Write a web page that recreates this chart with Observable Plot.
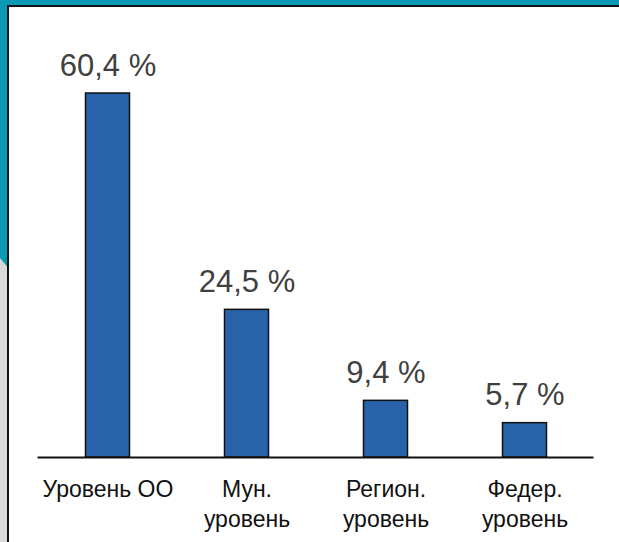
<!DOCTYPE html>
<html>
<head>
<meta charset="utf-8">
<script src="https://cdn.jsdelivr.net/npm/d3@7"></script>
<script src="https://cdn.jsdelivr.net/npm/@observablehq/plot@0.6"></script>
<style>
  html, body { margin: 0; padding: 0; }
  #frame { position: relative; width: 619px; height: 542px; background: #0a99b4; overflow: hidden; font-family: "Liberation Sans", Arial, sans-serif; }
  #gray { position: absolute; left: 0; top: 0; width: 10px; height: 542px; background: #d9d9d9;
          clip-path: polygon(0 258px, 10px 270px, 10px 542px, 0 542px); }
  #panel { position: absolute; left: 7px; top: 5px; right: 0; bottom: 0; background: #fff;
           border-left: 2px solid #111; border-top: 2px solid #111; }
  #chart { position: absolute; left: 0; top: 0; }
  #chart svg { overflow: visible; background: transparent; }
</style>
</head>
<body>
<div id="frame">
  <div id="gray"></div>
  <div id="panel"></div>
  <div id="chart"></div>
</div>
<script>
const categories = ["Уровень ОО", "Мун.\nуровень", "Регион.\nуровень", "Федер.\nуровень"];
const values = [60.4, 24.5, 9.4, 5.7];
const valueLabels = ["60,4 %", "24,5 %", "9,4 %", "5,7 %"];

const data = categories.map((c, i) => ({category: c, value: values[i], label: valueLabels[i]}));

const chart = Plot.plot({
  width: 619,
  height: 542,
  marginLeft: 37.5,
  marginRight: 25.5,
  marginTop: 93,
  marginBottom: 85,
  style: {background: "transparent", fontFamily: "'Liberation Sans', Arial, sans-serif"},
  x: {domain: categories, padding: 0, axis: null},
  y: {domain: [0, 60.4], axis: null},
  marks: [
    Plot.barY(data, {x: "category", y: "value", fill: "#2862a9", stroke: "#111", strokeWidth: 1.5, insetLeft: 47.5, insetRight: 47.5}),
    Plot.ruleY([0], {stroke: "#111", strokeWidth: 2}),
    Plot.text(data, {x: "category", y: "value", text: "label", dy: -18, lineAnchor: "bottom", fontSize: 31, fill: "#404040"}),
    Plot.text(data, {x: "category", y: () => 0, text: "category", dy: 18, lineAnchor: "top", fontSize: 23, lineHeight: 1.3, fill: "#111"})
  ]
});
document.getElementById("chart").appendChild(chart);
</script>
</body>
</html>
